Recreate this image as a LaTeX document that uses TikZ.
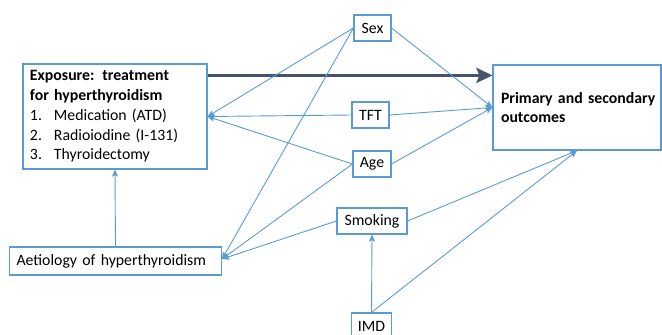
\documentclass[tikz,border=0pt]{standalone}
\usepackage{fontspec}
\setmainfont{Carlito}
\usetikzlibrary{arrows.meta,calc}
\definecolor{lineblue}{HTML}{5B9BD5}
\definecolor{darkarrow}{HTML}{44546A}
\begin{document}
\begin{tikzpicture}[x=1pt,y=-1pt,
  box/.style={draw=lineblue,line width=1.2pt,rectangle,inner sep=0pt,fill=white,
    font=\fontsize{15.8}{19.7}\selectfont},
  conn/.style={draw=lineblue,line width=0.9pt,-{Stealth[length=7pt,width=6pt,inset=1.5pt]}},
  bigarrow/.style={draw=darkarrow,line width=3.6pt,-{Stealth[length=16pt,width=15pt,inset=3pt]}}]
\useasboundingbox (0,0) rectangle (662,335);
\node[box,minimum width=184pt,minimum height=105pt,text width=170pt,align=left] (Exposure) at (115,116.5)
  {\mbox{\textbf{Exposure: treatment}}\\\mbox{\textbf{for hyperthyroidism}}\\
   \makebox[24pt][l]{1.}Medication (ATD)\\
   \makebox[24pt][l]{2.}Radioiodine (I-131)\\
   \makebox[24pt][l]{3.}Thyroidectomy};
\node[box,minimum width=168pt,minimum height=85pt,text width=152pt,align=left] (Outcomes) at (577,107.5)
  {\mbox{\textbf{Primary and secondary}}\\\textbf{outcomes}};
\node[box,minimum width=37pt,minimum height=26pt] (Sex) at (372.5,28) {Sex};
\node[box,minimum width=37pt,minimum height=26pt] (TFT) at (370.5,115) {TFT};
\node[box,minimum width=38pt,minimum height=26pt] (Age) at (372,164) {Age};
\node[box,minimum width=70pt,minimum height=26pt] (Smoking) at (372,221) {Smoking};
\node[box,minimum width=212pt,minimum height=28pt,text width=198pt,align=left] (Aetiology) at (115.5,261) {\mbox{Aetiology of hyperthyroidism}};
\node[box,minimum width=40pt,minimum height=26pt] (IMD) at (371.5,326) {IMD};

\draw[bigarrow] ($(Exposure.north east)+(0,12)$) -- ($(Outcomes.north west)+(0,11)$);
\draw[conn] (Sex.west) -- (Exposure.east);
\draw[conn] (TFT.west) -- (Exposure.east);
\draw[conn] (Age.west) -- (Exposure.east);
\draw[conn] (Sex.east) -- (Outcomes.west);
\draw[conn] (TFT.east) -- (Outcomes.west);
\draw[conn] (Age.east) -- (Outcomes.west);
\draw[conn] (Sex.west) -- ($(Aetiology.east)+(0,-2)$);
\draw[conn] (Age.west) -- ($(Aetiology.east)+(0,-2)$);
\draw[conn] (Smoking.west) -- ($(Aetiology.east)+(0,-2)$);
\draw[conn] (Smoking.east) -- (Outcomes.south);
\draw[conn] (IMD.north) -- (Outcomes.south);
\draw[conn] (IMD.north) -- (Smoking.south);
\draw[conn] (Aetiology.north) -- (Exposure.south);
\end{tikzpicture}
\end{document}
